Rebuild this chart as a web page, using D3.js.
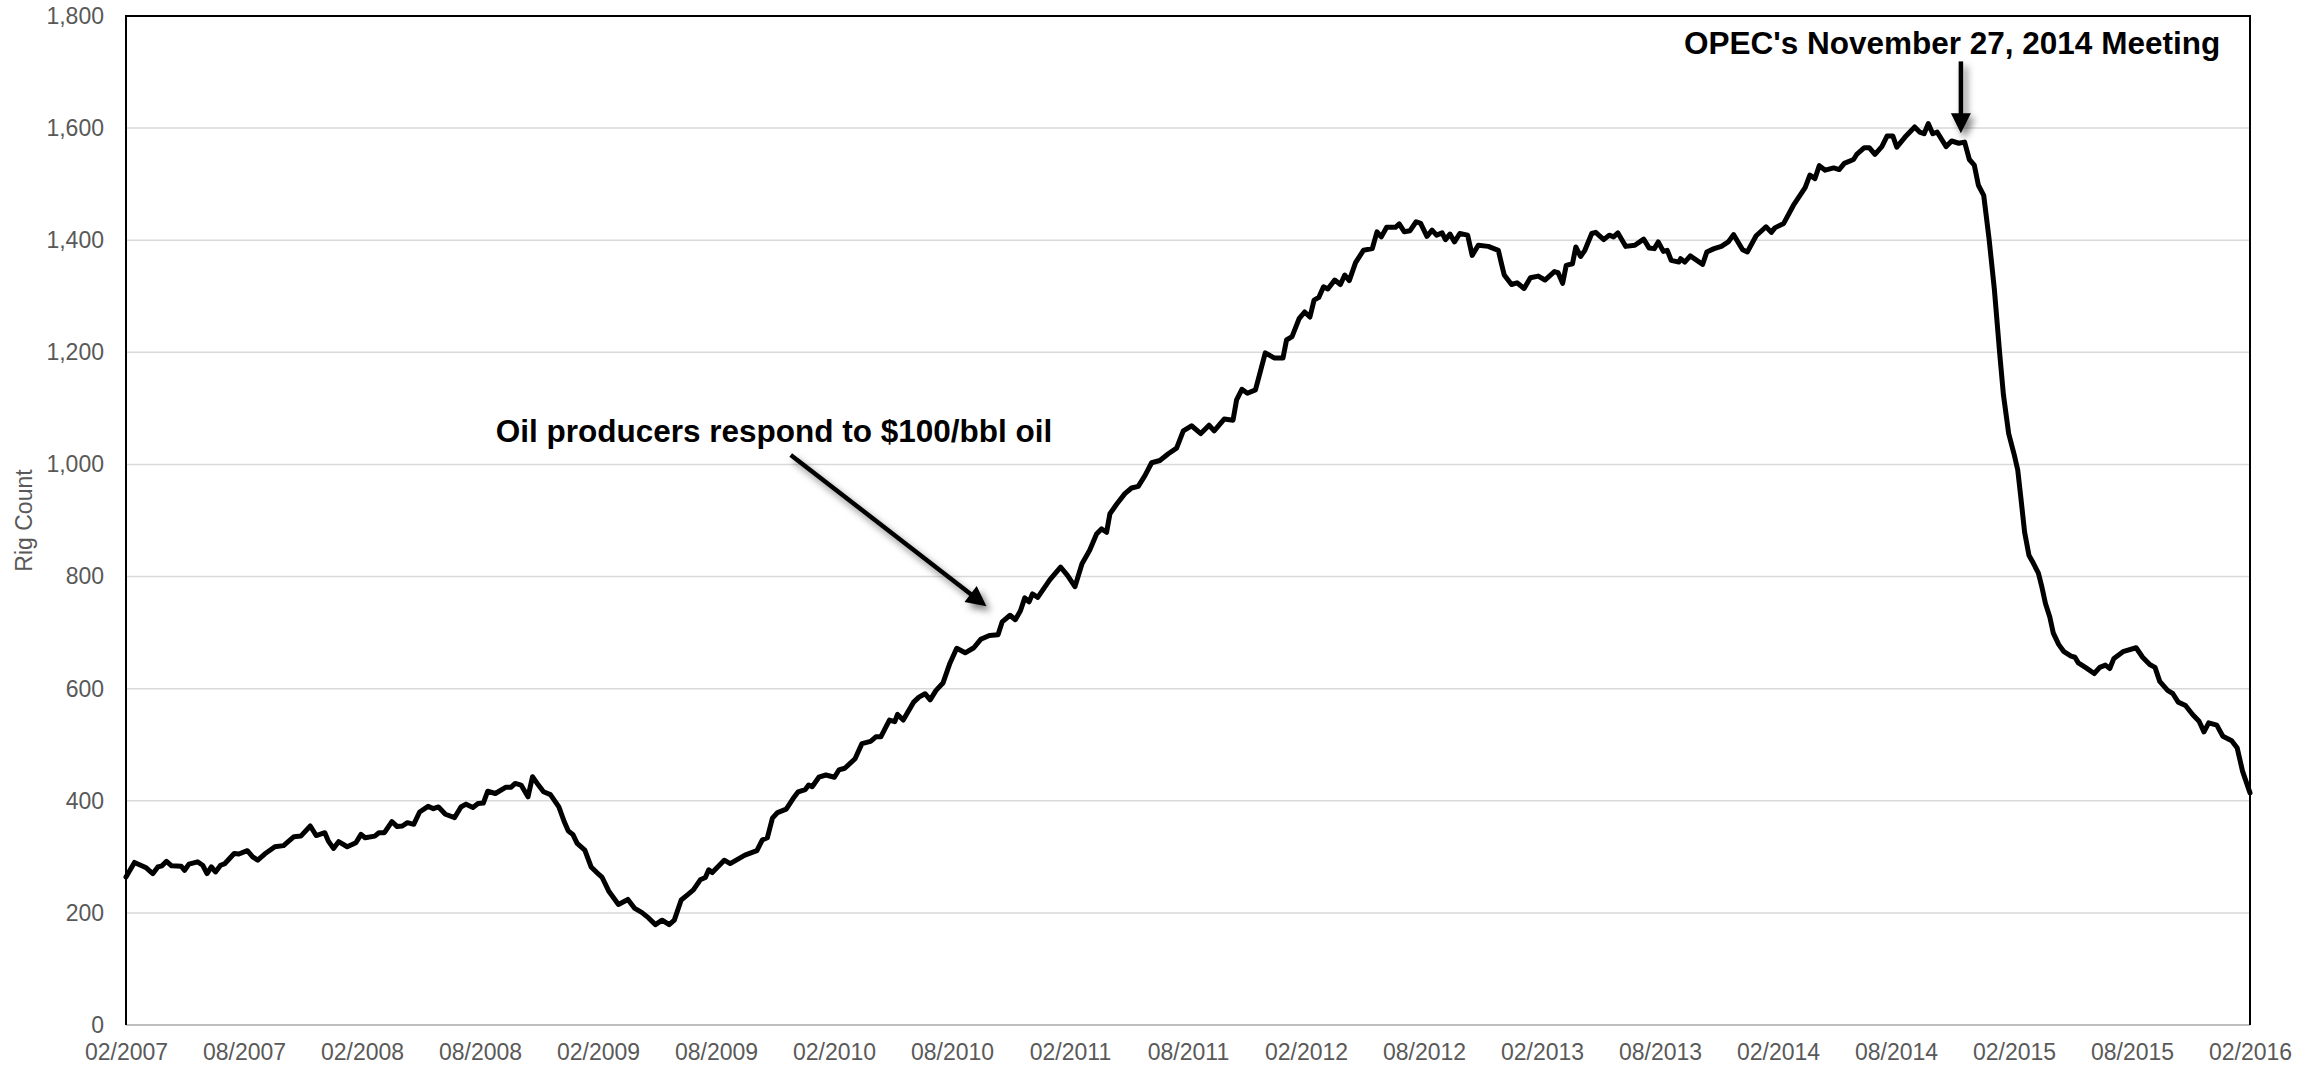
<!DOCTYPE html>
<html>
<head>
<meta charset="utf-8">
<script src="https://cdn.jsdelivr.net/npm/d3@7"></script>
<style>
  html, body { margin: 0; padding: 0; background: #ffffff; }
  svg { display: block; font-family: "Liberation Sans", Arial, Helvetica, sans-serif; }
</style>
</head>
<body>
<svg id="chart" width="2318" height="1068"></svg>
<script>
// ---- DATA ----
// x = months since 02/2007, y = rig count
const months = [
  0,0.43,1.0,1.36,1.62,1.83,2.06,2.32,2.81,2.98,3.2,3.64,3.9,4.12,4.34,4.55,4.81,5.03,5.5,5.74,
  6.17,6.44,6.7,7.05,7.57,8.01,8.54,8.89,9.37,9.67,10.11,10.29,10.55,10.81,11.25,11.69,11.95,12.16,12.65,12.86,
  13.14,13.52,13.79,14.05,14.31,14.63,14.93,15.36,15.63,15.89,16.24,16.71,17.03,17.29,17.64,17.9,18.17,18.39,18.78,19.3,
  19.57,19.79,20.09,20.44,20.67,20.97,21.23,21.58,22.01,22.28,22.49,22.72,22.94,23.33,23.65,23.94,24.2,24.56,25.04,25.52,
  25.87,26.22,26.57,26.92,27.26,27.62,27.88,28.23,28.58,28.85,29.2,29.46,29.63,29.81,30.42,30.72,31.47,32.08,32.35,32.61,
  32.87,33.13,33.57,33.92,34.18,34.54,34.71,34.89,35.23,35.59,36.02,36.25,36.55,37.07,37.42,37.86,38.13,38.38,38.82,39.09,
  39.23,39.52,40.05,40.32,40.63,40.89,41.19,41.54,41.89,42.24,42.67,43.11,43.46,43.9,44.34,44.55,44.95,45.22,45.48,45.7,
  45.92,46.09,46.36,46.97,47.52,47.87,48.25,48.61,49.0,49.35,49.6,49.86,50.03,50.37,50.79,51.13,51.47,51.81,52.15,52.57,
  53.0,53.42,53.76,54.18,54.65,55.07,55.33,55.84,56.29,56.47,56.74,57.02,57.43,57.65,57.93,58.38,58.83,59.01,59.29,59.65,
  59.93,60.2,60.41,60.65,60.89,61.11,61.46,61.75,61.97,62.2,62.52,62.92,63.37,63.61,63.83,64.1,64.55,64.74,65.0,65.29,
  65.6,65.83,66.15,66.41,66.64,66.92,67.09,67.32,67.55,67.82,68.22,68.45,68.76,69.27,69.78,69.92,70.08,70.45,70.73,71.09,
  71.41,71.81,72.15,72.63,72.82,73.05,73.23,73.55,73.72,73.96,74.18,74.53,74.73,75.14,75.42,75.64,75.86,76.26,76.72,77.17,
  77.45,77.71,77.91,78.17,78.37,78.57,78.96,79.05,79.26,79.54,80.17,80.38,80.75,81.12,81.47,81.74,82.2,82.44,82.89,83.39,
  83.66,83.84,84.29,84.78,85.38,85.62,85.88,86.1,86.4,86.83,87.11,87.37,87.84,88.0,88.39,88.64,88.93,89.28,89.55,89.84,
  90.04,90.46,90.95,91.2,91.43,91.64,91.87,92.09,92.55,92.83,93.19,93.49,93.73,93.98,94.19,94.46,94.73,95.0,95.27,95.46,
  95.73,96.0,96.19,96.36,96.54,96.76,96.95,97.24,97.42,97.6,97.82,98.0,98.27,98.54,98.9,99.1,99.27,99.63,100.08,100.36,
  100.65,100.87,101.08,101.54,102.21,102.54,102.9,103.17,103.41,103.81,104.08,104.35,104.72,105.08,105.41,105.66,105.9,106.31,106.62,107.07,
  107.35,107.62,108
];
const rigCount = [
  264,290,281,270,282,284,292,284,283,276,287,291,285,270,282,273,285,288,306,305,
  311,300,294,305,318,320,336,337,355,338,343,328,315,327,318,325,340,334,337,343,
  343,363,354,355,361,358,380,390,386,389,376,370,389,394,388,395,396,417,413,424,
  424,431,428,407,443,428,416,411,389,363,346,340,324,312,282,272,264,238,215,224,
  208,201,191,179,187,179,187,223,233,241,259,263,277,272,294,288,303,311,330,334,
  369,379,385,404,416,420,428,425,442,446,442,455,458,475,502,506,514,514,544,541,
  554,544,576,585,591,580,597,610,645,672,664,673,688,695,696,719,731,723,739,762,
  755,769,763,794,817,802,782,823,847,876,885,879,912,929,948,958,961,980,1003,1007,
  1019,1029,1060,1069,1055,1070,1060,1081,1079,1115,1134,1127,1133,1162,1199,1190,1190,1222,1228,1260,
  1272,1263,1293,1298,1317,1313,1329,1321,1338,1328,1360,1382,1385,1415,1406,1423,1423,1429,1415,1417,
  1433,1430,1407,1418,1409,1413,1401,1411,1397,1412,1409,1373,1391,1389,1382,1361,1338,1321,1324,1314,
  1333,1336,1329,1344,1342,1323,1355,1358,1388,1371,1382,1412,1414,1401,1409,1406,1413,1389,1391,1402,
  1386,1385,1397,1380,1382,1364,1361,1367,1361,1372,1357,1379,1385,1389,1397,1410,1383,1379,1408,1424,
  1414,1422,1430,1462,1494,1516,1510,1533,1525,1529,1526,1537,1544,1553,1565,1565,1553,1567,1586,1586,
  1566,1584,1602,1593,1590,1608,1590,1593,1567,1577,1573,1575,1544,1534,1498,1480,1403,1313,1199,1125,
  1055,1019,990,937,879,838,826,806,781,752,728,699,679,666,658,656,646,638,627,638,
  642,636,654,666,673,656,643,638,613,597,591,576,570,554,542,523,539,535,515,507,
  494,453,414
];
const xTickMonths = [0,6,12,18,24,30,36,42,48,54,60,66,72,78,84,90,96,102,108];
const xTickLabels = ["02/2007","08/2007","02/2008","08/2008","02/2009","08/2009","02/2010","08/2010",
  "02/2011","08/2011","02/2012","08/2012","02/2013","08/2013","02/2014","08/2014","02/2015","08/2015","02/2016"];
const yTicks = [0,200,400,600,800,1000,1200,1400,1600,1800];
const yTitle = "Rig Count";
const annotations = [
  { text: "Oil producers respond to $100/bbl oil", textAt: [32.95, 1040], from: [33.8, 1017], to: [43.75, 747] },
  { text: "OPEC's November 27, 2014 Meeting", textAt: [92.85, 1733], from: [93.3, 1719], to: [93.3, 1591] }
];

// ---- CHART ----
const svg = d3.select("#chart");
const W = 2318, H = 1068;
const m = { left: 126, right: 2250, top: 16, bottom: 1025 };

const data = months.map((d, i) => ({ x: d, y: rigCount[i] }));

const x = d3.scaleLinear().domain([0, 108]).range([m.left, m.right]);
const y = d3.scaleLinear().domain([0, 1800]).range([m.bottom, m.top]);

// defs: shadow filter
const defs = svg.append("defs");
const f = defs.append("filter").attr("id", "shadow").attr("x", "-50%").attr("y", "-50%").attr("width", "200%").attr("height", "200%");
f.append("feDropShadow").attr("dx", 4).attr("dy", 5).attr("stdDeviation", 3.5)
  .attr("flood-color", "#000").attr("flood-opacity", 0.5);

svg.append("rect").attr("width", W).attr("height", H).attr("fill", "#ffffff");

// gridlines
svg.append("g")
  .selectAll("line")
  .data(yTicks.filter(t => t > 0 && t < 1800))
  .join("line")
  .attr("x1", m.left).attr("x2", m.right)
  .attr("y1", d => y(d)).attr("y2", d => y(d))
  .attr("stroke", "#d9d9d9").attr("stroke-width", 1.5);

// y axis labels
const yAxis = d3.axisLeft(y).tickValues(yTicks).tickFormat(d3.format(",")).tickSize(0).tickPadding(22);
const gy = svg.append("g").attr("transform", `translate(${m.left},0)`).call(yAxis);
gy.select(".domain").remove();
gy.selectAll("text").attr("fill", "#595959").style("font-size", "23px").style("font-family", '"Liberation Sans", Arial, sans-serif');

// x axis labels
const xAxis = d3.axisBottom(x).tickValues(xTickMonths).tickFormat((d, i) => xTickLabels[i]).tickSize(0).tickPadding(19);
const gx = svg.append("g").attr("transform", `translate(0,${m.bottom})`).call(xAxis);
gx.select(".domain").remove();
gx.selectAll("text").attr("fill", "#595959").style("font-size", "23px").style("font-family", '"Liberation Sans", Arial, sans-serif');

// y title
svg.append("text")
  .attr("transform", `translate(32,${(m.top + m.bottom) / 2}) rotate(-90)`)
  .attr("text-anchor", "middle")
  .attr("fill", "#595959")
  .style("font-size", "23px")
  .text(yTitle);

// data line
const line = d3.line().x(d => x(d.x)).y(d => y(d.y)).curve(d3.curveLinear);
svg.append("path")
  .datum(data)
  .attr("d", line)
  .attr("fill", "none")
  .attr("stroke", "#000")
  .attr("stroke-width", 5)
  .attr("stroke-linejoin", "round")
  .attr("stroke-linecap", "round");

// plot border: left, top, right black; bottom grey axis line
svg.append("line").attr("x1", m.left).attr("x2", m.right).attr("y1", m.bottom).attr("y2", m.bottom)
  .attr("stroke", "#bfbfbf").attr("stroke-width", 2);
svg.append("path")
  .attr("d", `M${m.left},${m.bottom}V${m.top}H${m.right}V${m.bottom}`)
  .attr("fill", "none").attr("stroke", "#000").attr("stroke-width", 2);

// annotations
annotations.forEach(a => {
  const x1 = x(a.from[0]), y1 = y(a.from[1]);
  const x2 = x(a.to[0]), y2 = y(a.to[1]);
  const ang = Math.atan2(y2 - y1, x2 - x1);
  const headLen = 20, headW = 10;
  const bx = x2 - headLen * Math.cos(ang), by = y2 - headLen * Math.sin(ang);
  const px = -Math.sin(ang), py = Math.cos(ang);
  const g = svg.append("g").attr("filter", "url(#shadow)");
  g.append("line")
    .attr("x1", x1).attr("y1", y1).attr("x2", bx + 2 * Math.cos(ang)).attr("y2", by + 2 * Math.sin(ang))
    .attr("stroke", "#000").attr("stroke-width", 4.5);
  g.append("path")
    .attr("d", `M${x2},${y2}L${bx + px * headW},${by + py * headW}L${bx - px * headW},${by - py * headW}Z`)
    .attr("fill", "#000");
  svg.append("text")
    .attr("x", x(a.textAt[0])).attr("y", y(a.textAt[1]))
    .attr("text-anchor", "middle")
    .attr("fill", "#000")
    .style("font-size", "31.5px")
    .style("font-weight", "bold")
    .text(a.text);
});
</script>
</body>
</html>
